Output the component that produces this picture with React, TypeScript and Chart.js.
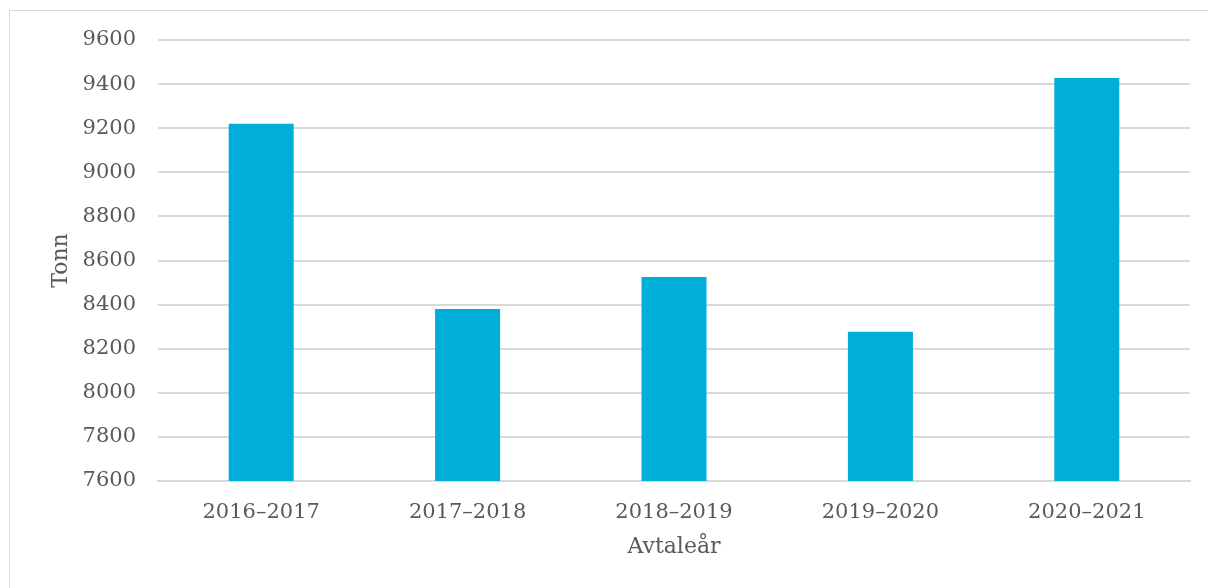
import React, { useEffect, useRef } from "react";
import { Chart, registerables } from "chart.js";

Chart.register(...registerables);

const categories = ["2016–2017", "2017–2018", "2018–2019", "2019–2020", "2020–2021"];
const tonnValues = [9220, 8380, 8525, 8277, 9428];
const yMin = 7600;
const yMax = 9600;
const yStep = 200;

const FONT = "'DejaVu Serif', Georgia, serif";
const TEXT = "#595959";
const GRID = "#D9D9D9";
const BAR = "#00AED9";

export default function App() {
  const ref = useRef<HTMLCanvasElement | null>(null);

  useEffect(() => {
    if (!ref.current) return;
    const chart = new Chart(ref.current, {
      type: "bar",
      data: {
        labels: categories,
        datasets: [
          {
            label: "Tonn",
            data: tonnValues,
            backgroundColor: BAR,
            borderWidth: 0,
            categoryPercentage: 1,
            barPercentage: 0.315,
          },
        ],
      },
      options: {
        animation: false,
        responsive: false,
        maintainAspectRatio: false,
        layout: { padding: { top: 40, right: 18, left: 40, bottom: 0 } },
        plugins: { legend: { display: false }, tooltip: { enabled: false } },
        scales: {
          x: {
            grid: { display: false, drawTicks: false },
            border: { display: true, color: GRID, width: 2 },
            ticks: { color: TEXT, font: { family: FONT, size: 21 }, padding: 19 },
            title: {
              display: true,
              text: "Avtaleår",
              color: TEXT,
              font: { family: FONT, size: 22 },
              padding: { top: 0, bottom: 28 },
            },
            afterFit: (s: any) => {
              s.height = 107;
            },
          },
          y: {
            min: yMin,
            max: yMax,
            grid: { color: GRID, lineWidth: 2, drawTicks: false },
            border: { display: false },
            ticks: {
              stepSize: yStep,
              color: TEXT,
              font: { family: FONT, size: 21 },
              padding: 22,
              callback: (v: any) => String(v),
            },
            title: {
              display: true,
              text: "Tonn",
              color: TEXT,
              font: { family: FONT, size: 22 },
              padding: { top: 8, bottom: 0 },
            },
            afterFit: (s: any) => {
              s.width = 118;
            },
          },
        },
      },
    });
    return () => chart.destroy();
  }, []);

  return (
    <div style={{ position: "fixed", left: 0, top: 0, width: 1208, height: 588, overflow: "hidden", background: "#fff" }}>
      <div
        style={{
          position: "absolute",
          left: 9,
          top: 10,
          width: 1230,
          height: 610,
          border: "1px solid #D9D9D9",
          boxSizing: "border-box",
        }}
      />
      <canvas ref={ref} width={1208} height={588} style={{ position: "absolute", left: 0, top: 0 }} />
    </div>
  );
}
